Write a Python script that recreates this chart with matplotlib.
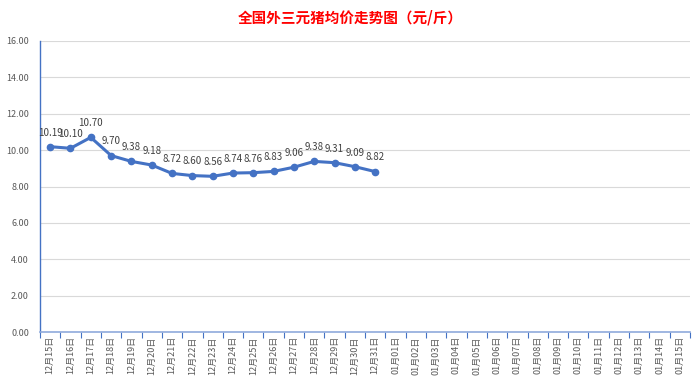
import matplotlib.pyplot as plt
import numpy as np

plt.rcParams['font.family'] = ['Noto Sans CJK SC', 'DejaVu Sans']

# 日期与价格数据
dates = ['12月15日', '12月16日', '12月17日', '12月18日', '12月19日', '12月20日',
         '12月21日', '12月22日', '12月23日', '12月24日', '12月25日', '12月26日',
         '12月27日', '12月28日', '12月29日', '12月30日', '12月31日',
         '01月01日', '01月02日', '01月03日', '01月04日', '01月05日', '01月06日',
         '01月07日', '01月08日', '01月09日', '01月10日', '01月11日', '01月12日',
         '01月13日', '01月14日', '01月15日']
prices = [10.19, 10.10, 10.70, 9.70, 9.38, 9.18, 8.72, 8.60, 8.56, 8.74,
          8.76, 8.83, 9.06, 9.38, 9.31, 9.09, 8.82]
y_ticks = [0, 2, 4, 6, 8, 10, 12, 14, 16]

line_color = '#4472C4'

fig = plt.figure(figsize=(7, 3.83), dpi=100)
ax = fig.add_axes([40 / 700, 51 / 383, 650 / 700, 291 / 383])

x = np.arange(len(prices))
ax.plot(x, prices, color=line_color, linewidth=2.2, marker='o', markersize=4.5, zorder=3)

# 数据标签
for i, v in enumerate(prices):
    ax.annotate(f"{v:.2f}", (i, v), textcoords="offset points", xytext=(0, 8),
                ha='center', fontsize=7, color='#404040')

ax.set_xlim(-0.5, len(dates) - 0.5)
ax.set_ylim(0, 16)
ax.set_yticks(y_ticks)
ax.set_yticklabels([f"{t:.2f}" for t in y_ticks], fontsize=6.5, color='#595959')
ax.tick_params(axis='y', length=0, pad=8)

# x轴：刻度在类别之间，标签在中间
ax.set_xticks(np.arange(-0.5, len(dates), 1.0))
ax.set_xticklabels([])
ax.tick_params(axis='x', which='major', length=4, color=line_color, direction='out')
ax.set_xticks(np.arange(len(dates)), minor=True)
ax.set_xticklabels(dates, minor=True, rotation=90, fontsize=6.5, color='#595959')
ax.tick_params(axis='x', which='minor', length=0, pad=3)

ax.grid(axis='y', color='#D9D9D9', linewidth=0.8)
ax.set_axisbelow(True)
for s in ['top', 'right']:
    ax.spines[s].set_visible(False)
ax.spines['bottom'].set_color('#8FAADC')
ax.spines['bottom'].set_linewidth(1.2)
ax.spines['left'].set_color(line_color)
ax.spines['left'].set_linewidth(1.0)

fig.text(0.5, 0.955, '全国外三元猪均价走势图（元/斤）', ha='center', va='center',
         fontsize=10.5, color='#FF0000', fontweight='bold')

fig.savefig('out.png', dpi=100)
